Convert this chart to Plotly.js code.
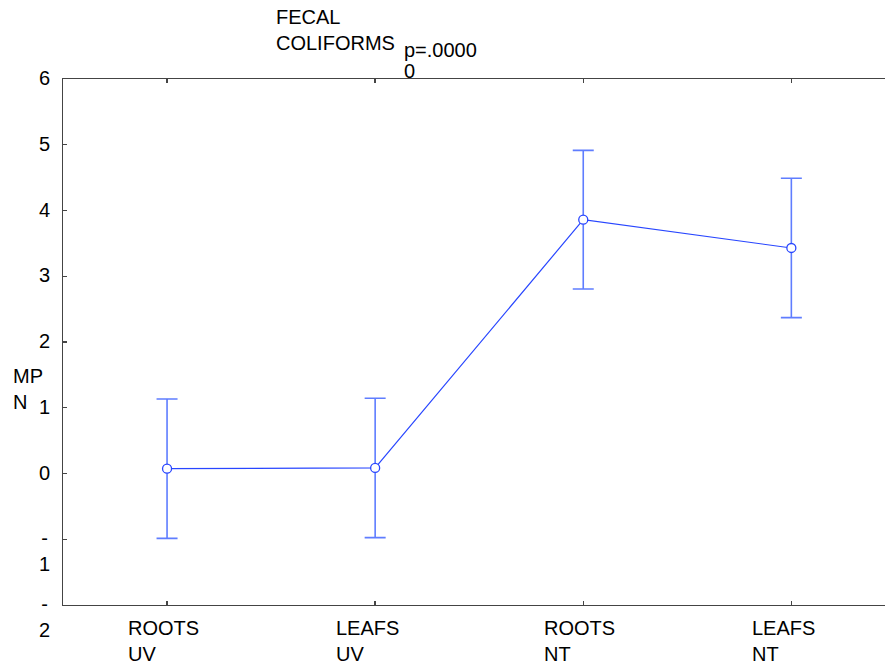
<!DOCTYPE html>
<html>
<head>
<meta charset="utf-8">
<script src="https://cdn.plot.ly/plotly-3.0.1.min.js"></script>
<style>html,body{margin:0;padding:0;background:#fff;}#chart{width:885px;height:667px;}</style>
</head>
<body>
<div id="chart"></div>
<script>
// Data
const categories = ["ROOTS UV", "LEAFS UV", "ROOTS NT", "LEAFS NT"];
const categoryLabels = ["ROOTS<br>UV", "LEAFS<br>UV", "ROOTS<br>NT", "LEAFS<br>NT"];
const means = [0.074, 0.085, 3.86, 3.43];
const errors = [1.06, 1.06, 1.055, 1.06];
const yTickVals = [-2, -1, 0, 1, 2, 3, 4, 5, 6];
const yTickText = ["-<br>2", "-<br>1", "0", "1", "2", "3", "4", "5", "6"];
const titleText = "FECAL<br>COLIFORMS";
const pLines = ["p=.0000", "0"];
const yTitleText = "MP<br>N";

const FONT = "Liberation Sans, Arial, sans-serif";
const FS = 20;
const LINE_COL = "rgb(40,70,255)";
const ERR_COL = "rgb(95,125,255)";

const trace = {
  x: categories,
  y: means,
  type: "scatter",
  mode: "lines+markers",
  line: {color: LINE_COL, width: 1.2},
  marker: {symbol: "circle", size: 9, color: "#ffffff", line: {color: LINE_COL, width: 1.3}},
  error_y: {type: "data", array: errors, visible: true, color: ERR_COL, thickness: 1.6, width: 10.5},
  hoverinfo: "skip"
};

const annotations = [];
// x tick labels
categories.forEach((c, i) => {
  annotations.push({
    x: c, xref: "x", y: 0, yref: "paper",
    text: categoryLabels[i], showarrow: false,
    xanchor: "left", xshift: -41, yanchor: "top", yshift: -10,
    align: "left", font: {family: FONT, size: FS, color: "#000"}
  });
});
// y tick labels
yTickVals.forEach((v, i) => {
  annotations.push({
    x: (44 - 63) / 822, xref: "paper", y: v, yref: "y",
    text: yTickText[i], showarrow: false,
    xanchor: "center", yanchor: "top", yshift: 14,
    align: "center", font: {family: FONT, size: FS, color: "#000"}
  });
});
// y title
annotations.push({
  x: (11 - 63) / 822, xref: "paper", y: (474 - 377) / 65.75, yref: "y",
  text: yTitleText, showarrow: false,
  xanchor: "left", yanchor: "top", yshift: 14,
  align: "left", font: {family: FONT, size: FS, color: "#000"}
});
// title
annotations.push({
  x: (274 - 63) / 822, xref: "paper", y: 1, yref: "paper",
  text: titleText, showarrow: false,
  xanchor: "left", yanchor: "top", yshift: 79 - 18.3 + 14,
  align: "left", font: {family: FONT, size: FS, color: "#000"}
});
// p value (two lines, tighter spacing as in reference)
const pCenters = [49.5, 71];
pLines.forEach((t, i) => {
  annotations.push({
    x: (402 - 63) / 822, xref: "paper", y: 1, yref: "paper",
    text: t, showarrow: false,
    xanchor: "left", yanchor: "middle", yshift: 79 - pCenters[i],
    align: "left", font: {family: FONT, size: FS, color: "#000"}
  });
});

const layout = {
  width: 885, height: 667,
  margin: {l: 63, r: 0, t: 79, b: 62, pad: 0},
  paper_bgcolor: "#fff", plot_bgcolor: "#fff",
  showlegend: false,
  font: {family: FONT, size: FS, color: "#000"},
  xaxis: {
    type: "category", categoryorder: "array", categoryarray: categories,
    range: [-0.5, 3.45], showgrid: false, zeroline: false,
    showline: true, linecolor: "#444", linewidth: 1.3, mirror: "ticks",
    ticks: "inside", ticklen: 4, tickwidth: 1.3, tickcolor: "#444",
    showticklabels: false, fixedrange: true
  },
  yaxis: {
    range: [-2, 6], tickvals: yTickVals, showgrid: false, zeroline: false,
    showline: true, linecolor: "#444", linewidth: 1.3,
    ticks: "inside", ticklen: 4, tickwidth: 1.3, tickcolor: "#444",
    showticklabels: false, fixedrange: true
  },
  annotations: annotations
};

Plotly.newPlot("chart", [trace], layout, {staticPlot: true, displayModeBar: false});
</script>
</body>
</html>
